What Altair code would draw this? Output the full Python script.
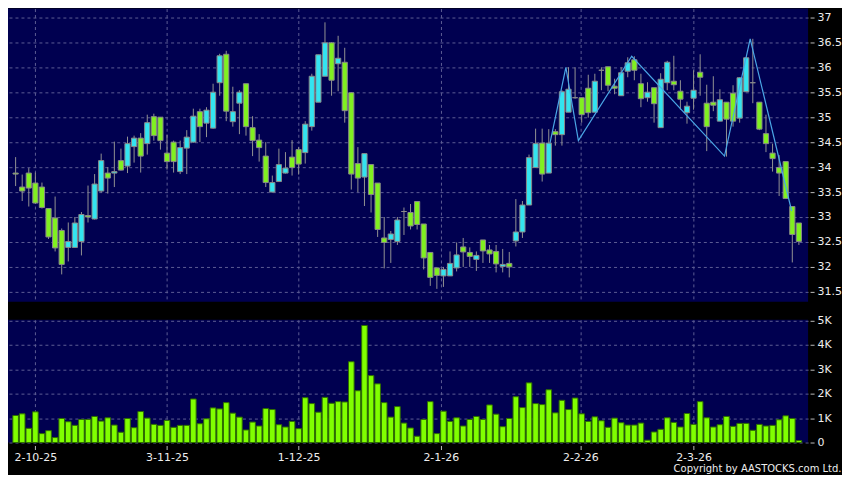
import altair as alt
import pandas as pd

# ---- data ----
opens = [33.88, 33.60, 33.88, 33.68, 33.60, 33.17, 32.98, 32.73, 32.39, 32.39,
         32.51, 33.03, 32.96, 33.52, 33.88, 33.88, 34.13, 34.02, 34.41, 34.58,
         34.47, 35.01, 35.00, 34.28, 34.50, 33.91, 34.38, 34.50, 35.11, 34.88,
         34.78, 35.69, 36.26, 34.91, 35.28, 35.67, 34.79, 34.54, 34.22, 33.50,
         33.71, 33.88, 34.20, 34.35, 34.29, 34.81, 35.30, 35.82, 36.49, 36.07,
         36.10, 35.49, 34.07, 33.80, 34.05, 33.68, 32.58, 32.55, 32.51, 33.11,
         33.09, 33.31, 32.86, 32.29, 31.98, 31.82, 31.82, 31.98, 32.40, 32.29,
         32.15, 32.54, 32.34, 32.31, 32.01, 32.07, 32.52, 32.70, 33.24, 33.99,
         34.48, 33.88, 34.71, 34.65, 35.10, 35.39, 35.39, 35.58, 35.10, 35.94,
         36.01, 35.62, 35.43, 35.92, 36.15, 35.67, 35.39, 35.59, 34.79, 35.69,
         35.72, 35.52, 35.09, 35.38, 35.90, 35.28, 35.30, 34.92, 35.30, 35.48,
         34.98, 35.51, 35.69, 35.30, 34.67, 34.28, 33.99, 34.11, 33.21, 32.88]
highs = [34.20, 33.85, 33.98, 33.89, 33.69, 33.18, 33.41, 32.77, 32.89, 33.00,
         33.10, 33.63, 33.86, 34.27, 34.00, 34.51, 34.37, 34.61, 34.63, 34.68,
         35.05, 35.07, 35.00, 34.65, 34.53, 34.53, 34.74, 35.17, 35.17, 35.20,
         35.67, 36.27, 36.33, 35.61, 35.54, 35.67, 35.02, 34.66, 34.50, 33.83,
         34.37, 34.30, 34.54, 34.40, 34.92, 35.87, 36.25, 36.90, 36.50, 36.63,
         36.39, 35.50, 34.40, 34.27, 34.05, 33.68, 33.00, 32.72, 33.00, 33.19,
         33.26, 33.31, 32.86, 32.29, 31.98, 32.00, 32.31, 32.49, 32.58, 32.39,
         32.31, 32.54, 32.44, 32.44, 32.36, 32.30, 33.36, 33.32, 34.25, 34.77,
         34.77, 34.76, 34.76, 35.54, 36.00, 36.00, 35.39, 35.85, 35.87, 36.00,
         36.01, 35.77, 36.00, 36.20, 36.22, 35.87, 35.70, 35.59, 35.88, 36.13,
         36.23, 35.74, 35.31, 35.94, 36.26, 35.65, 35.82, 35.56, 35.30, 35.64,
         35.80, 36.20, 36.57, 35.30, 35.05, 34.47, 34.24, 34.11, 33.21, 32.88]
lows = [33.62, 33.32, 33.21, 33.26, 33.17, 32.56, 32.31, 31.85, 32.11, 32.38,
        32.23, 32.89, 32.95, 33.49, 33.47, 33.60, 33.93, 33.88, 34.09, 33.89,
        34.25, 34.53, 34.35, 33.95, 33.89, 33.86, 33.86, 34.49, 34.50, 34.60,
        34.77, 35.43, 34.92, 34.81, 34.66, 34.63, 34.22, 34.11, 33.60, 33.49,
        33.70, 33.87, 33.83, 33.85, 34.07, 34.73, 35.30, 35.82, 35.43, 35.52,
        34.89, 33.55, 33.50, 33.22, 33.09, 32.60, 31.97, 32.08, 32.44, 32.64,
        32.75, 32.75, 31.95, 31.62, 31.56, 31.60, 31.82, 31.91, 32.00, 32.00,
        31.92, 32.08, 32.08, 31.89, 31.89, 31.79, 32.41, 32.58, 33.24, 33.99,
        33.71, 33.88, 34.43, 34.43, 35.10, 35.37, 34.89, 34.99, 35.10, 35.54,
        35.52, 35.46, 35.43, 35.80, 35.74, 35.20, 35.31, 34.89, 34.79, 35.54,
        35.54, 35.15, 34.87, 35.15, 35.43, 34.32, 35.12, 34.92, 34.21, 34.81,
        34.89, 35.51, 35.28, 34.74, 34.30, 33.91, 33.42, 33.36, 32.09, 32.44]
closes = [33.86, 33.52, 33.58, 33.28, 33.19, 32.60, 32.38, 32.05, 32.51, 32.88,
          33.05, 33.00, 33.66, 34.13, 33.78, 33.91, 33.94, 34.47, 34.58, 34.22,
          34.89, 34.63, 34.53, 34.11, 34.11, 34.39, 34.60, 35.02, 34.81, 35.14,
          35.50, 36.23, 35.12, 35.11, 35.50, 34.81, 34.53, 34.39, 33.69, 33.69,
          34.05, 33.98, 33.99, 34.06, 34.86, 35.82, 36.25, 36.49, 35.74, 36.18,
          35.13, 33.86, 33.78, 34.27, 33.45, 32.75, 32.49, 32.66, 32.94, 33.11,
          32.82, 32.85, 32.18, 31.79, 31.83, 31.95, 32.07, 32.24, 32.30, 32.21,
          32.23, 32.32, 32.26, 32.06, 32.05, 32.00, 32.70, 33.24, 34.19, 34.47,
          33.86, 34.48, 34.65, 35.51, 35.56, 35.39, 35.05, 35.09, 35.72, 35.94,
          35.64, 35.58, 35.89, 36.09, 35.94, 35.37, 35.50, 35.27, 35.76, 36.10,
          35.65, 35.36, 35.22, 35.54, 35.80, 34.81, 35.24, 35.35, 34.96, 34.92,
          35.79, 36.19, 35.69, 34.76, 34.47, 34.17, 33.88, 33.37, 32.65, 32.51]
volumes = [1108, 1176, 581, 1257, 365, 486, 203, 986, 851, 703,
           946, 946, 1068, 878, 1014, 716, 419, 986, 608, 1270,
           1000, 743, 703, 905, 622, 703, 703, 1784, 770, 973,
           1419, 1378, 1635, 1203, 1041, 514, 838, 676, 1392, 1351,
           730, 635, 865, 568, 1838, 1595, 1243, 1851, 1608, 1676,
           1662, 3311, 2122, 4797, 2743, 2405, 1635, 1041, 1473, 797,
           595, 257, 946, 1676, 365, 1284, 865, 1014, 676, 946,
           1068, 946, 1541, 1162, 649, 986, 1878, 1432, 2446, 1595,
           1554, 2162, 1216, 1730, 1351, 1824, 1176, 865, 1054, 892,
           622, 1000, 811, 716, 716, 797, 95, 432, 541, 1014,
           824, 635, 1189, 743, 1676, 1014, 635, 730, 1068, 662,
           784, 784, 500, 743, 676, 703, 932, 1095, 986, 81]

x_tick_pos = [3, 23, 43, 64.6, 85.8, 103]
x_tick_labels = ["2-10-25", "3-11-25", "1-12-25", "2-1-26", "2-2-26", "2-3-26"]
price_ticks = [31.5, 32, 32.5, 33, 33.5, 34, 34.5, 35, 35.5, 36, 36.5, 37]
vol_ticks = [0, 1000, 2000, 3000, 4000, 5000]
zig_x = [81.2, 83.6, 85.5, 93.6, 107.7, 111.6, 117.9]
zig_y = [34.49, 36.00, 34.53, 36.22, 34.22, 36.57, 33.12]
copyright_text = "Copyright by AASTOCKS.com Ltd."

# ---- styling ----
CYAN = "#33e4f0"
GREEN = "#80f020"
OUTLINE = "#8a8a8a"
GRID = "#5c5c94"
LABEL = "#eeeeee"
FONT = "DejaVu Sans"

df = pd.DataFrame({"i": list(range(len(opens))), "open": opens, "high": highs,
                   "low": lows, "close": closes, "volume": volumes})
df["dir"] = ["up" if c > o else ("down" if c < o else "flat") for o, c in zip(opens, closes)]
zig = pd.DataFrame({"zx": zig_x, "zy": zig_y})

xscale = alt.Scale(domain=[-0.4, 119.64], nice=False, zero=False)
arr_pos = "[" + ",".join(str(v) for v in x_tick_pos) + "]"
arr_lab = "[" + ",".join("'" + s + "'" for s in x_tick_labels) + "]"
label_expr = f"{arr_lab}[indexof({arr_pos}, datum.value)]"

x_axis_price = alt.Axis(values=x_tick_pos, labels=False, ticks=False, domain=False,
                        grid=True, gridColor=GRID, gridDash=[3, 3], title=None)
y_axis_price = alt.Axis(orient="right", values=price_ticks, format="~g", grid=True,
                        gridColor=GRID, gridDash=[3, 3], domain=False, tickSize=4,
                        tickColor="#bbbbbb", offset=2, labelPadding=3, labelColor=LABEL,
                        labelFontSize=11, labelFont=FONT, title=None)
yscale_price = alt.Scale(domain=[31.3, 37.176], nice=False, zero=False)

base = alt.Chart(df)
wicks = base.mark_rule(color="#929292", strokeWidth=1).encode(
    x=alt.X("i:Q", scale=xscale, axis=x_axis_price),
    y=alt.Y("low:Q", scale=yscale_price, axis=y_axis_price),
    y2="high:Q",
)
bodies = base.mark_bar(size=5.2, stroke=OUTLINE, strokeWidth=1).encode(
    x=alt.X("i:Q", scale=xscale, axis=x_axis_price),
    y=alt.Y("open:Q", scale=yscale_price, axis=y_axis_price),
    y2="close:Q",
    color=alt.Color("dir:N", scale=alt.Scale(domain=["up", "down", "flat"],
                                             range=[CYAN, GREEN, "#9a9a9a"]), legend=None),
)
zigzag = alt.Chart(zig).mark_line(color="#4aa6e6", strokeWidth=1.2).encode(
    x=alt.X("zx:Q", scale=xscale, axis=x_axis_price),
    y=alt.Y("zy:Q", scale=yscale_price, axis=y_axis_price),
)
price = alt.layer(wicks, bodies, zigzag).properties(width=802, height=294)

vol = base.mark_bar(size=5.6, color="#80ff00", stroke="#2f6e00", strokeWidth=1).encode(
    x=alt.X("i:Q", scale=xscale,
            axis=alt.Axis(values=x_tick_pos, labelExpr=label_expr, grid=True, gridColor=GRID,
                          gridDash=[3, 3], domain=False, ticks=True, tickSize=4,
                          tickColor="#bbbbbb", offset=3, labelPadding=2, labelColor=LABEL,
                          labelFontSize=11, labelFont=FONT, title=None)),
    y=alt.Y("volume:Q", scale=alt.Scale(domain=[0, 5030], nice=False),
            axis=alt.Axis(orient="right", values=vol_ticks,
                          labelExpr="datum.value == 0 ? '0' : (datum.value / 1000) + 'K'",
                          grid=True, gridColor=GRID, gridDash=[3, 3], domain=False,
                          tickSize=4, tickColor="#bbbbbb", offset=2, labelPadding=3,
                          labelColor=LABEL, labelFontSize=11, labelFont=FONT, title=None)),
).properties(width=802, height=123)

chart = alt.vconcat(price, vol, spacing=12).properties(
    background="black",
    padding=0,
    title=alt.TitleParams(copyright_text, orient="bottom", anchor="end", fontSize=10,
                          font=FONT, fontWeight="normal", color=LABEL, offset=2),
).configure_view(fill="#000050", stroke=None)

chart.save("out.html", embed_options={"renderer": "svg", "actions": False})
